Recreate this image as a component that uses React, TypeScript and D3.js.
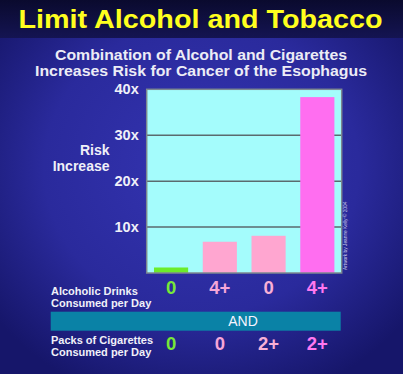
import React, { useEffect, useRef } from 'react';
import * as d3 from 'd3';

const drinks = ['0', '4+', '0', '4+'];
const packs = ['0', '0', '2+', '2+'];
const riskValues = [1.2, 6.8, 8.1, 38.3];
const yTicks = [10, 20, 30, 40];
const barColors = ['#6cec2a', '#ffa6d0', '#ffa6d0', '#ff6ef0'];
const labelColors = ['#78e838', '#f6a6d8', '#f8b0d6', '#ff78f0'];

const W = 403;
const H = 374;
const FONT = '"Liberation Sans", Arial, sans-serif';

const App: React.FC = () => {
  const svgRef = useRef<SVGSVGElement>(null);

  useEffect(() => {
    if (!svgRef.current) return;
    d3.select(svgRef.current).selectAll('*').remove();

    const svg = d3.select(svgRef.current).attr('width', W).attr('height', H);
    const defs = svg.append('defs');

    // Background gradients
    const radial = defs.append('radialGradient')
      .attr('id', 'bg-radial')
      .attr('cx', '50%').attr('cy', '45%').attr('r', '65%');
    radial.append('stop').attr('offset', '0%').attr('stop-color', '#3434b2');
    radial.append('stop').attr('offset', '60%').attr('stop-color', '#2a2a9c');
    radial.append('stop').attr('offset', '100%').attr('stop-color', '#16166a');

    const topBand = defs.append('linearGradient')
      .attr('id', 'bg-top')
      .attr('x1', 0).attr('y1', 0).attr('x2', 0).attr('y2', 1);
    topBand.append('stop').attr('offset', '0%').attr('stop-color', '#0a0a2e');
    topBand.append('stop').attr('offset', '100%').attr('stop-color', '#141452');

    svg.append('rect').attr('width', W).attr('height', H).attr('fill', 'url(#bg-radial)');
    svg.append('rect').attr('width', W).attr('height', 38).attr('fill', 'url(#bg-top)');

    // Titles
    svg.append('text')
      .attr('x', 200.5).attr('y', 28)
      .attr('text-anchor', 'middle')
      .attr('font-family', FONT).attr('font-weight', 'bold').attr('font-size', 26)
      .attr('fill', '#ffff1e')
      .attr('textLength', 364).attr('lengthAdjust', 'spacingAndGlyphs')
      .text('Limit Alcohol and Tobacco');

    const sub = ['Combination of Alcohol and Cigarettes', 'Increases Risk for Cancer of the Esophagus'];
    const subWidths = [292, 332];
    sub.forEach((t, i) => {
      svg.append('text')
        .attr('x', 201).attr('y', 60 + i * 15.5)
        .attr('text-anchor', 'middle')
        .attr('font-family', FONT).attr('font-weight', 'bold').attr('font-size', 14)
        .attr('fill', '#ececf6')
        .attr('textLength', subWidths[i]).attr('lengthAdjust', 'spacingAndGlyphs')
        .text(t);
    });

    // Scales
    const left = 146.7;
    const right = 341.7;
    const top = 89.3;
    const bottom = 273;

    const x = d3.scaleBand<number>()
      .domain(d3.range(riskValues.length))
      .range([left, right])
      .paddingInner(0.3)
      .paddingOuter(0.15);

    const y = d3.scaleLinear()
      .domain([0, 40])
      .range([bottom, top]);

    // Plot area
    svg.append('rect')
      .attr('x', left).attr('y', top)
      .attr('width', right - left).attr('height', bottom - top)
      .attr('fill', '#a4fcfc');

    // Grid lines
    svg.append('g')
      .selectAll('line')
      .data(yTicks.slice(0, -1))
      .enter()
      .append('line')
      .attr('x1', left).attr('x2', right)
      .attr('y1', d => y(d)).attr('y2', d => y(d))
      .attr('stroke', '#5a6a6e').attr('stroke-width', 1.5);

    // Bars
    svg.append('g')
      .selectAll('rect')
      .data(riskValues)
      .enter()
      .append('rect')
      .attr('x', (_, i) => x(i) as number)
      .attr('y', d => y(d))
      .attr('width', x.bandwidth())
      .attr('height', d => bottom - y(d))
      .attr('fill', (_, i) => barColors[i]);

    // Plot border
    svg.append('rect')
      .attr('x', left).attr('y', top)
      .attr('width', right - left).attr('height', bottom - top)
      .attr('fill', 'none')
      .attr('stroke', '#7c8890').attr('stroke-width', 1.5);

    // Y axis
    const yAxis = d3.axisLeft(y).tickValues(yTicks).tickSize(0).tickPadding(8).tickFormat(d => `${d}x`);
    const yg = svg.append('g').attr('transform', `translate(${left},0)`).call(yAxis);
    yg.select('.domain').remove();
    yg.selectAll('text')
      .attr('font-family', FONT).attr('font-weight', 'bold').attr('font-size', 14.5)
      .attr('fill', '#f0f0f8');

    // Y axis title
    ['Risk', 'Increase'].forEach((t, i) => {
      svg.append('text')
        .attr('x', 109.5).attr('y', 155 + i * 15.5)
        .attr('text-anchor', 'end')
        .attr('font-family', FONT).attr('font-weight', 'bold').attr('font-size', 14)
        .attr('fill', '#f0f0f8')
        .text(t);
    });

    // Credit
    svg.append('text')
      .attr('transform', `translate(347,270) rotate(-90)`)
      .attr('font-family', FONT).attr('font-size', 4.8)
      .attr('fill', '#c8c8e8')
      .text('Artwork by Jeanne Kelly © 2004');

    // Category rows
    const rowLabel = (lines: string[], y0: number) => {
      lines.forEach((t, i) => {
        svg.append('text')
          .attr('x', 51).attr('y', y0 + i * 11.7)
          .attr('font-family', FONT).attr('font-weight', 'bold').attr('font-size', 11)
          .attr('fill', '#f0f0f8')
          .text(t);
      });
    };
    rowLabel(['Alcoholic Drinks', 'Consumed per Day'], 295);
    rowLabel(['Packs of Cigarettes', 'Consumed per Day'], 344.3);

    const valueRow = (vals: string[], yy: number) => {
      svg.append('g')
        .selectAll('text')
        .data(vals)
        .enter()
        .append('text')
        .attr('x', (_, i) => (x(i) as number) + x.bandwidth() / 2)
        .attr('y', yy)
        .attr('text-anchor', 'middle')
        .attr('font-family', FONT).attr('font-weight', 'bold').attr('font-size', 18.5)
        .attr('fill', (_, i) => labelColors[i])
        .text(d => d);
    };
    valueRow(drinks, 293.5);
    valueRow(packs, 349.5);

    // AND band
    svg.append('rect')
      .attr('x', 50.7).attr('y', 311.7)
      .attr('width', right - 1 - 50.7).attr('height', 19)
      .attr('fill', '#0a82a6');
    svg.append('text')
      .attr('x', 243).attr('y', 326)
      .attr('text-anchor', 'middle')
      .attr('font-family', FONT).attr('font-size', 14)
      .attr('fill', '#f4f4ff')
      .text('AND');
  }, []);

  return (
    <svg
      ref={svgRef}
      style={{ position: 'absolute', left: 0, top: 0, display: 'block' }}
    />
  );
};

export default App;
